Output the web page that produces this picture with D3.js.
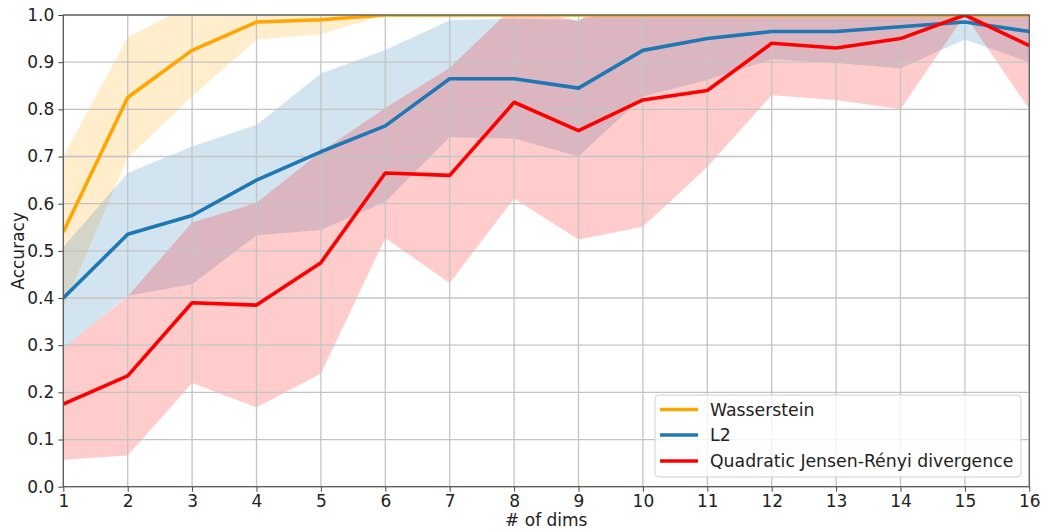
<!DOCTYPE html>
<html><head><meta charset="utf-8">
<script src="https://cdn.jsdelivr.net/npm/d3@7"></script>
<style>body{margin:0;background:#fff}svg{display:block;font-family:"DejaVu Sans",sans-serif}</style>
</head><body><svg id="c" width="1042" height="529"></svg>
<script>
const dims = [1,2,3,4,5,6,7,8,9,10,11,12,13,14,15,16];
const seriesNames = ["Wasserstein","L2","Quadratic Jensen-Rényi divergence"];
const seriesColors = ["#ffa500","#1f77b4","#ff0000"];
const wassMean = [0.54,0.825,0.925,0.985,0.99,1.0,1.0,1.0,1.0,1.0,1.0,1.0,1.0,1.0,1.0,1.0];
const wassStd  = [0.16,0.128,0.098,0.037,0.031,0,0,0,0,0,0,0,0,0,0,0];
const l2Mean = [0.40,0.535,0.575,0.65,0.71,0.765,0.865,0.865,0.845,0.925,0.95,0.965,0.965,0.975,0.985,0.965];
const l2Std  = [0.108,0.13,0.146,0.117,0.166,0.161,0.124,0.127,0.145,0.098,0.088,0.059,0.067,0.088,0.037,0.065];
const qjrMean = [0.175,0.235,0.39,0.385,0.475,0.665,0.66,0.815,0.755,0.82,0.84,0.94,0.93,0.95,1.0,0.935];
const qjrStd  = [0.118,0.169,0.17,0.217,0.235,0.138,0.228,0.204,0.231,0.269,0.162,0.11,0.11,0.15,0,0.135];
const yTicks = [0,0.1,0.2,0.3,0.4,0.5,0.6,0.7,0.8,0.9,1.0];
const xTicks = dims;

const means = [wassMean,l2Mean,qjrMean];
const stds = [wassStd,l2Std,qjrStd];

const L=63.3,R=1029.3,T=15,B=486.7;
const svg=d3.select("#c");
const x=d3.scaleLinear().domain([1,16]).range([L,R]);
const y=d3.scaleLinear().domain([0,1]).range([B,T]);

svg.append("defs").append("clipPath").attr("id","clip").append("rect")
  .attr("x",L).attr("y",T).attr("width",R-L).attr("height",B-T);

// fills
const area=d3.area().x((d,i)=>x(dims[i])).y0(d=>y(d[0])).y1(d=>y(d[1]));
const fills=svg.append("g").attr("clip-path","url(#clip)");
means.forEach((m,k)=>{
  const data=m.map((v,i)=>[v-stds[k][i],v+stds[k][i]]);
  fills.append("path").datum(data).attr("d",area).attr("fill",seriesColors[k]).attr("fill-opacity",0.2);
});

// grid
const grid=svg.append("g").attr("stroke","#c4c4c4").attr("stroke-width",1.3);
yTicks.forEach(t=>grid.append("line").attr("x1",L).attr("x2",R).attr("y1",y(t)).attr("y2",y(t)));
xTicks.forEach(t=>grid.append("line").attr("y1",T).attr("y2",B).attr("x1",x(t)).attr("x2",x(t)));

// axes
const xa=svg.append("g").attr("transform",`translate(0,${B})`)
  .call(d3.axisBottom(x).tickValues(xTicks).tickFormat(d3.format("d")).tickSize(5).tickPadding(3));
const ya=svg.append("g").attr("transform",`translate(${L},0)`)
  .call(d3.axisLeft(y).tickValues(yTicks).tickFormat(d3.format(".1f")).tickSize(5).tickPadding(4));
[xa,ya].forEach(a=>{a.select(".domain").remove();a.selectAll("line").attr("stroke","#444");
  a.selectAll("text").attr("font-size",17).attr("fill","#222").attr("font-family","DejaVu Sans");});

// lines
const line=d3.line().x((d,i)=>x(dims[i])).y(d=>y(d));
const lines=svg.append("g").attr("clip-path","url(#clip)");
means.forEach((m,k)=>{
  lines.append("path").datum(m).attr("d",line).attr("fill","none").attr("stroke",seriesColors[k])
   .attr("stroke-width",3.6).attr("stroke-linejoin","round");
});

// spines
svg.append("rect").attr("x",L).attr("y",T).attr("width",R-L).attr("height",B-T)
  .attr("fill","none").attr("stroke","#555").attr("stroke-width",1.2);

// labels
svg.append("text").attr("x",(L+R)/2).attr("y",526).attr("text-anchor","middle")
  .attr("font-size",17).attr("fill","#222").text("# of dims");
svg.append("text").attr("transform",`translate(24,${(T+B)/2}) rotate(-90)`).attr("text-anchor","middle")
  .attr("font-size",17).attr("fill","#222").text("Accuracy");

// legend
const lg=svg.append("g");
lg.append("rect").attr("x",655).attr("y",395).attr("width",366).attr("height",82).attr("rx",4)
  .attr("fill","#fff").attr("fill-opacity",0.8).attr("stroke","#d0d0d0").attr("stroke-width",1);
const rows=[409.5,435,461];
seriesNames.forEach((n,k)=>{
  lg.append("line").attr("x1",660).attr("x2",698).attr("y1",rows[k]).attr("y2",rows[k])
    .attr("stroke",seriesColors[k]).attr("stroke-width",3.6);
  lg.append("text").attr("x",710).attr("y",rows[k]+6).attr("font-size",17.3).attr("fill","#222").text(n);
});
</script></body></html>
